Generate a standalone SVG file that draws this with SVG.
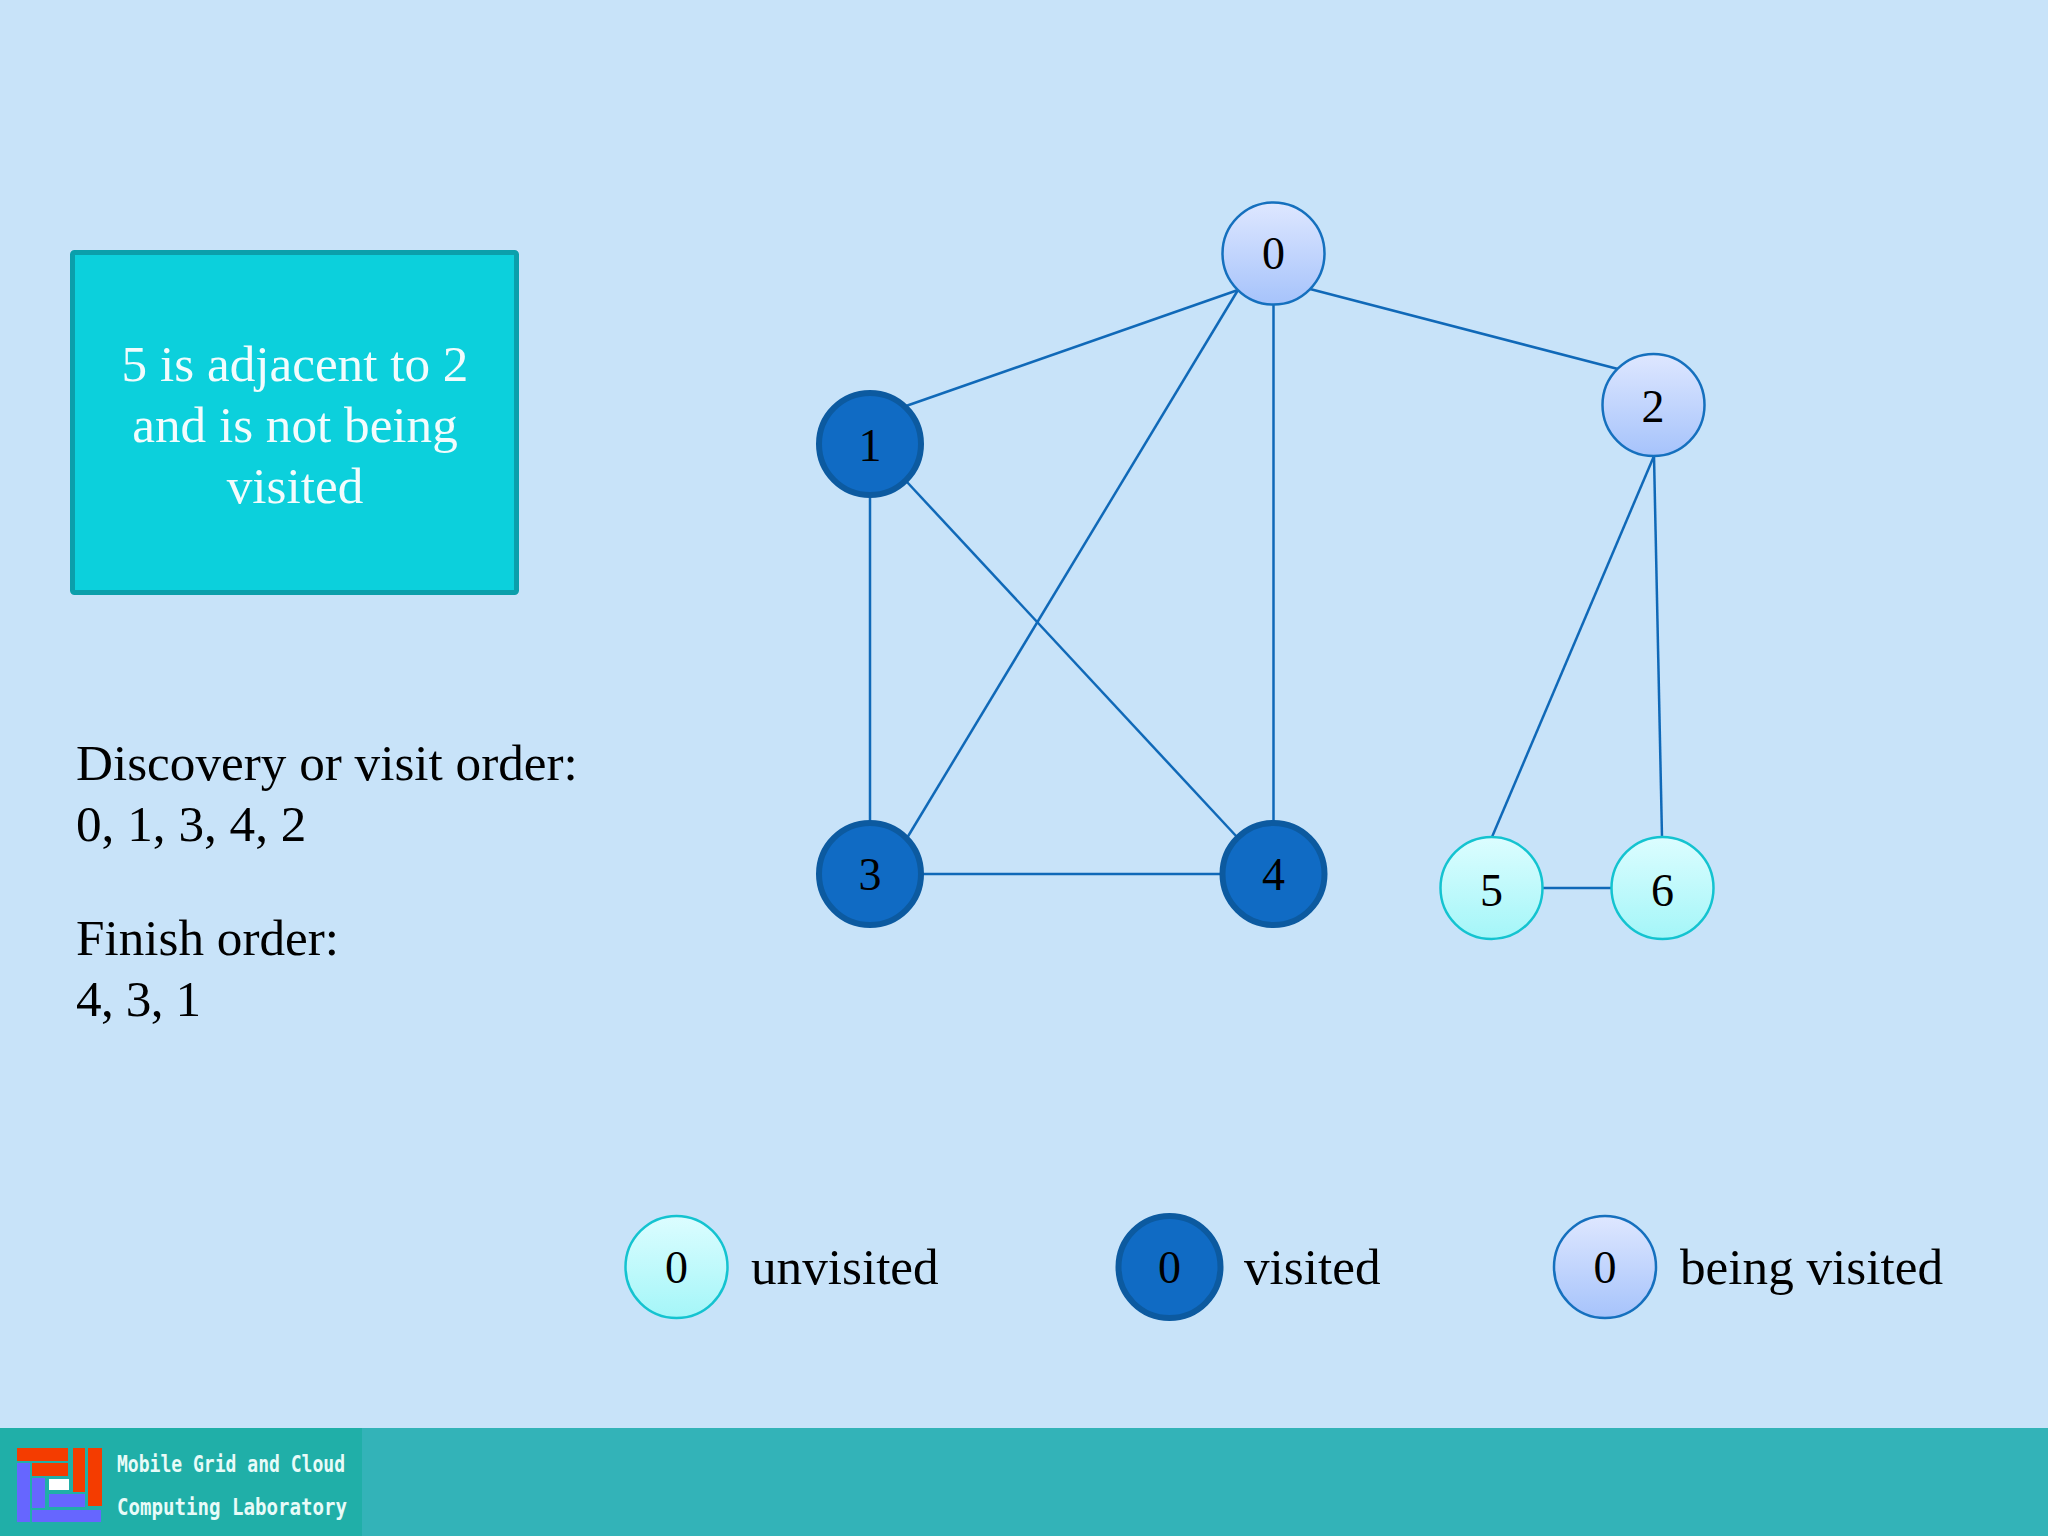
<svg xmlns="http://www.w3.org/2000/svg" width="2048" height="1536" viewBox="0 0 2048 1536">
<defs>
<linearGradient id="gU" x1="0" y1="0" x2="0" y2="1"><stop offset="0" stop-color="#DCFDFF"/><stop offset="1" stop-color="#A4F6F8"/></linearGradient>
<linearGradient id="gB" x1="0" y1="0" x2="0" y2="1"><stop offset="0" stop-color="#DEE7FF"/><stop offset="1" stop-color="#A6C3FB"/></linearGradient>
</defs>
<style>
text{font-family:"Liberation Serif","Times New Roman",serif;fill:#000}
.n{font-size:46px;text-anchor:middle}
.b{font-size:51.2px;text-anchor:middle;fill:#F2FCFD}
.t{font-size:51.2px}
.unv{fill:url(#gU);stroke:#14C3D0;stroke-width:2.5}
.bei{fill:url(#gB);stroke:#1570BE;stroke-width:2.5}
.vis{fill:#106BC4;stroke:#0C5AA0;stroke-width:6}
.e{stroke:#1069B8;stroke-width:2.5;fill:none}
.f{font-family:"DejaVu Sans Mono",monospace;font-size:23px;font-weight:bold;fill:#E8FBF8}
</style>
<rect id="background" width="2048" height="1536" fill="#C8E3F9"/>
<g id="footer">
<rect x="0" y="1428" width="2048" height="108" fill="#33B3B8"/>
<rect x="0" y="1428" width="362" height="108" fill="#20AFA8"/>
<g id="logo">
<rect x="17" y="1448" width="51" height="13" fill="#F43C00"/>
<rect x="32" y="1463" width="36" height="13" fill="#F43C00"/>
<rect x="73" y="1448" width="12" height="44" fill="#F43C00"/>
<rect x="88" y="1448" width="14" height="58" fill="#F43C00"/>
<rect x="17" y="1463" width="13" height="59" fill="#6666FF"/>
<rect x="32" y="1478" width="13" height="30" fill="#6666FF"/>
<rect x="49" y="1479" width="20" height="11" fill="#FFFFFF"/>
<rect x="49" y="1494" width="36" height="13" fill="#6666FF"/>
<rect x="32" y="1510" width="69" height="12" fill="#6666FF"/>
</g>
<text class="f" x="117" y="1472" textLength="228" lengthAdjust="spacingAndGlyphs">Mobile Grid and Cloud</text>
<text class="f" x="117" y="1515" textLength="230" lengthAdjust="spacingAndGlyphs">Computing Laboratory</text>
</g>
<g id="connectors">
<line class="e" x1="1238" y1="290" x2="906" y2="406"/>
<line class="e" x1="1238" y1="290" x2="907" y2="838"/>
<line class="e" x1="1273.5" y1="304" x2="1273.5" y2="822"/>
<line class="e" x1="1310" y1="289" x2="1618" y2="369"/>
<line class="e" x1="870" y1="496" x2="870" y2="821"/>
<line class="e" x1="907" y1="482" x2="1237" y2="837"/>
<line class="e" x1="923" y1="874" x2="1220" y2="874"/>
<line class="e" x1="1654" y1="456" x2="1492" y2="837"/>
<line class="e" x1="1654" y1="456" x2="1662" y2="837"/>
<line class="e" x1="1543" y1="888" x2="1611" y2="888"/>
</g>
<g id="node-0"><circle class="bei" cx="1273.5" cy="253.5" r="51"/><text class="n" x="1273.5" y="269">0</text></g>
<g id="node-1"><circle class="vis" cx="870" cy="444" r="51"/><text class="n" x="870" y="461">1</text></g>
<g id="node-2"><circle class="bei" cx="1653.5" cy="405" r="51"/><text class="n" x="1653" y="422">2</text></g>
<g id="node-3"><circle class="vis" cx="870" cy="874" r="51"/><text class="n" x="870" y="890">3</text></g>
<g id="node-4"><circle class="vis" cx="1273.5" cy="874" r="51"/><text class="n" x="1273.5" y="890">4</text></g>
<g id="node-5"><circle class="unv" cx="1491.5" cy="888" r="51"/><text class="n" x="1491.5" y="906">5</text></g>
<g id="node-6"><circle class="unv" cx="1662.5" cy="888" r="51"/><text class="n" x="1662.5" y="906">6</text></g>
<g id="message">
<rect x="72.500" y="252.500" width="444" height="340" rx="2" fill="#0CD0DC" stroke="#0B9FAB" stroke-width="5"/>
<text class="b" x="295" y="381">5 is adjacent to 2</text>
<text class="b" x="295" y="442">and is not being</text>
<text class="b" x="295" y="503">visited</text>
</g>
<g id="orders">
<text class="t" x="76" y="780">Discovery or visit order:</text>
<text class="t" x="76" y="841">0, 1, 3, 4, 2</text>
<text class="t" x="76" y="955">Finish order:</text>
<text class="t" x="76" y="1016" textLength="125">4, 3, 1</text>
</g>
<g id="legend-unvisited"><circle class="unv" cx="676.5" cy="1267" r="51"/><text class="n" x="676.500" y="1283">0</text><text class="t" x="751" y="1284">unvisited</text></g>
<g id="legend-visited"><circle class="vis" cx="1169.500" cy="1267" r="51"/><text class="n" x="1169.500" y="1283">0</text><text class="t" x="1244" y="1284">visited</text></g>
<g id="legend-being"><circle class="bei" cx="1605" cy="1267" r="51"/><text class="n" x="1605" y="1283">0</text><text class="t" x="1680" y="1284">being visited</text></g>
</svg>
